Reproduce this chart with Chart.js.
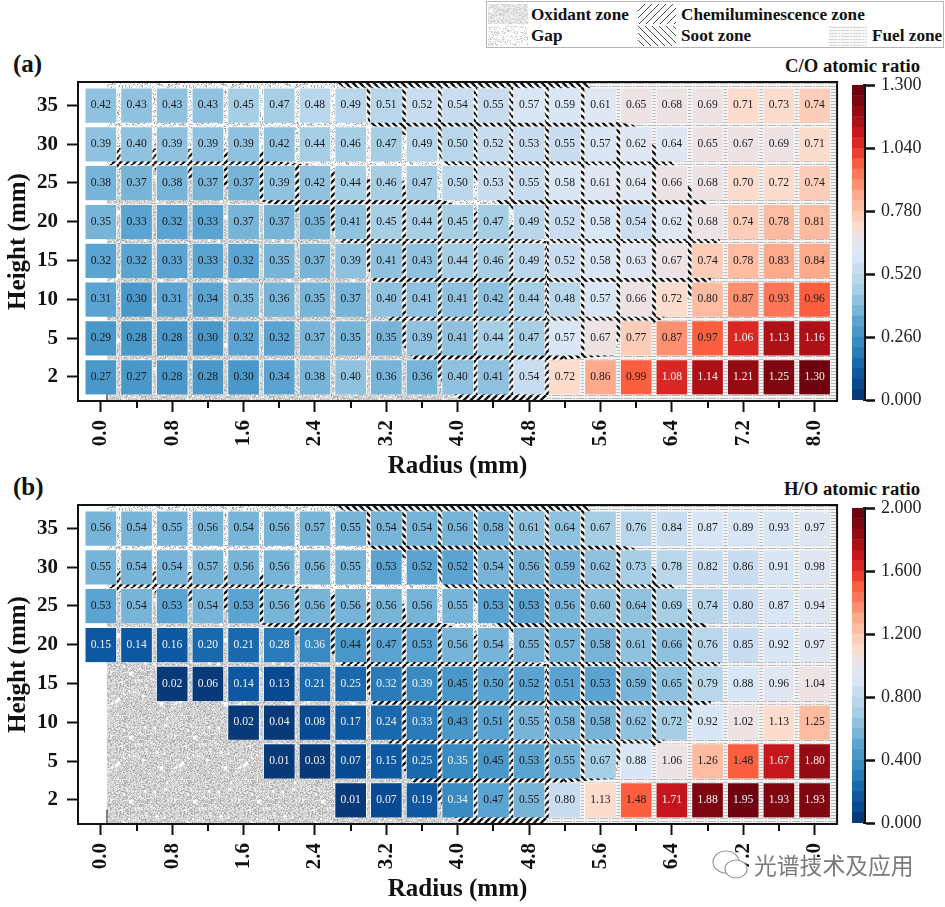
<!DOCTYPE html>
<html>
<head>
<meta charset="utf-8">
<script src="https://cdn.jsdelivr.net/npm/chart.js@4"></script>
<style>
  html, body { margin: 0; background: #fff; }
  body { width: 945px; height: 907px; position: relative; overflow: hidden; font-family: 'Liberation Serif', 'Times New Roman', serif; color: #111; }
  canvas.panel { position: absolute; left: 0; }
  canvas.bar { position: absolute; left: 840px; }
  .txt { position: absolute; font-weight: 700; white-space: nowrap; line-height: 1; }
  #legend { position: absolute; left: 486px; top: 1px; width: 456px; height: 45px; border: 1px solid #b5b5b5; }
  .sw { position: absolute; }
  .lg { font-size: 17.2px; }
  #mark { position: absolute; left: 754px; top: 848px; font: 22.8px 'Noto Sans CJK SC', sans-serif; color: #7a7a7a; white-space: nowrap; -webkit-text-stroke: 3px #fff; paint-order: stroke fill; }
</style>
</head>
<body>
<div id="legend"></div>
<div class="txt" style="left:13px;top:51px;font-size:25px">(a)</div>
<div class="txt" style="left:13px;top:474px;font-size:25px">(b)</div>
<div class="txt" style="right:25px;top:57px;font-size:18.7px">C/O atomic ratio</div>
<div class="txt" style="right:25px;top:480px;font-size:18.7px">H/O atomic ratio</div>
<canvas class="panel" id="panelA" width="848" height="430" style="top:52px"></canvas>
<canvas class="panel" id="panelB" width="848" height="430" style="top:475px"></canvas>
<canvas class="bar" id="barA" width="105" height="365" style="top:52px"></canvas>
<canvas class="bar" id="barB" width="105" height="365" style="top:475px"></canvas>
<svg style="position:absolute;left:711px;top:849px" width="38" height="33" viewBox="0 0 38 33">
  <ellipse cx="15" cy="13" rx="13" ry="11" fill="#fff" stroke="#999" stroke-width="1.2"/>
  <ellipse cx="25" cy="20" rx="11" ry="9" fill="#fff" stroke="#999" stroke-width="1.2"/>
</svg>
<div id="mark">光谱技术及应用</div>

<script>
// radius labels, one per column of cells
const radii = ['0.0', '0.4', '0.8', '1.2', '1.6', '2.0', '2.4', '2.8', '3.2', '3.6', '4.0',
               '4.4', '4.8', '5.2', '5.6', '6.0', '6.4', '6.8', '7.2', '7.6', '8.0'];
const heights = ['2', '5', '10', '15', '20', '25', '30', '35'];

// C/O atomic ratio, bottom row first
const co2 = [0.27, 0.27, 0.28, 0.28, 0.30, 0.34, 0.38, 0.40, 0.36, 0.36, 0.40, 0.41, 0.54, 0.72, 0.86, 0.99, 1.08, 1.14, 1.21, 1.25, 1.30];
const co5 = [0.29, 0.28, 0.28, 0.30, 0.32, 0.32, 0.37, 0.35, 0.35, 0.39, 0.41, 0.44, 0.47, 0.57, 0.67, 0.77, 0.87, 0.97, 1.06, 1.13, 1.16];
const co10 = [0.31, 0.30, 0.31, 0.34, 0.35, 0.36, 0.35, 0.37, 0.40, 0.41, 0.41, 0.42, 0.44, 0.48, 0.57, 0.66, 0.72, 0.80, 0.87, 0.93, 0.96];
const co15 = [0.32, 0.32, 0.33, 0.33, 0.32, 0.35, 0.37, 0.39, 0.41, 0.43, 0.44, 0.46, 0.49, 0.52, 0.58, 0.63, 0.67, 0.74, 0.78, 0.83, 0.84];
const co20 = [0.35, 0.33, 0.32, 0.33, 0.37, 0.37, 0.35, 0.41, 0.45, 0.44, 0.45, 0.47, 0.49, 0.52, 0.58, 0.54, 0.62, 0.68, 0.74, 0.78, 0.81];
const co25 = [0.38, 0.37, 0.38, 0.37, 0.37, 0.39, 0.42, 0.44, 0.46, 0.47, 0.50, 0.53, 0.55, 0.58, 0.61, 0.64, 0.66, 0.68, 0.70, 0.72, 0.74];
const co30 = [0.39, 0.40, 0.39, 0.39, 0.39, 0.42, 0.44, 0.46, 0.47, 0.49, 0.50, 0.52, 0.53, 0.55, 0.57, 0.62, 0.64, 0.65, 0.67, 0.69, 0.71];
const co35 = [0.42, 0.43, 0.43, 0.43, 0.45, 0.47, 0.48, 0.49, 0.51, 0.52, 0.54, 0.55, 0.57, 0.59, 0.61, 0.65, 0.68, 0.69, 0.71, 0.73, 0.74];

// H/O atomic ratio, bottom row first, null where nothing was measured
const ho2 = [null, null, null, null, null, null, null, 0.01, 0.07, 0.19, 0.34, 0.47, 0.55, 0.80, 1.13, 1.48, 1.71, 1.88, 1.95, 1.93, 1.93];
const ho5 = [null, null, null, null, null, 0.01, 0.03, 0.07, 0.15, 0.25, 0.35, 0.45, 0.53, 0.55, 0.67, 0.88, 1.06, 1.26, 1.48, 1.67, 1.80];
const ho10 = [null, null, null, null, 0.02, 0.04, 0.08, 0.17, 0.24, 0.33, 0.43, 0.51, 0.55, 0.58, 0.58, 0.62, 0.72, 0.92, 1.02, 1.13, 1.25];
const ho15 = [null, null, 0.02, 0.06, 0.14, 0.13, 0.21, 0.25, 0.32, 0.39, 0.45, 0.50, 0.52, 0.51, 0.53, 0.59, 0.65, 0.79, 0.88, 0.96, 1.04];
const ho20 = [0.15, 0.14, 0.16, 0.20, 0.21, 0.28, 0.36, 0.44, 0.47, 0.53, 0.56, 0.54, 0.55, 0.57, 0.58, 0.61, 0.66, 0.76, 0.85, 0.92, 0.97];
const ho25 = [0.53, 0.54, 0.53, 0.54, 0.53, 0.56, 0.56, 0.56, 0.56, 0.56, 0.55, 0.53, 0.53, 0.56, 0.60, 0.64, 0.69, 0.74, 0.80, 0.87, 0.94];
const ho30 = [0.55, 0.54, 0.54, 0.57, 0.56, 0.56, 0.56, 0.55, 0.53, 0.52, 0.52, 0.54, 0.56, 0.59, 0.62, 0.73, 0.78, 0.82, 0.86, 0.91, 0.98];
const ho35 = [0.56, 0.54, 0.55, 0.56, 0.54, 0.56, 0.57, 0.55, 0.54, 0.54, 0.56, 0.58, 0.61, 0.64, 0.67, 0.76, 0.84, 0.87, 0.89, 0.93, 0.97];

const coRows = [co2, co5, co10, co15, co20, co25, co30, co35];
const hoRows = [ho2, ho5, ho10, ho15, ho20, ho25, ho30, ho35];
const coTicks = [0, 0.26, 0.52, 0.78, 1.04, 1.3];
const hoTicks = [0, 0.4, 0.8, 1.2, 1.6, 2.0];

// zone outlines, [column, row] in the axes' own units
const fuelZone = [[10, -0.62], [20.63, -0.62], [20.63, 7.6], [10, 7.6]];
const gapZone = [[0.17, 7.6], [13, 7.6], [13, 3.5], [6.5, 3.5], [3, 5.2], [0.17, 5.2]];
const oxidantZone = [[0.17, 5.35], [1.5, 5.35], [2.5, 5.1], [3.4, 4.9], [4.4, 4.55], [4.8, 4.45], [6.3, 4], [6.7, 3.5], [7.4, 3],
  [7.6, 2.5], [8.2, 2], [8.06, 1.45], [8.3, 1], [8.76, 0.45], [9.2, 0.2], [10.1, -0.62], [0.17, -0.62]];
const sootZone = [[6.6, 7.6], [13.56, 7.6], [14.1, 7.1], [14.5, 6.56], [14.92, 6.5], [15.45, 6], [16.2, 5.45], [16.5, 4.9], [17.07, 4.45],
  [17.35, 3.5], [17.3, 3.1], [17.07, 2.45], [15.68, 1.47], [14.5, 1], [14.4, 0.55], [13, 0.45], [12.5, 1.5], [12.5, 3.5], [12.4, 4],
  [11.1, 4.45], [10.5, 5], [9.55, 5.5], [9.4, 6], [7.5, 6.5], [7.45, 7]];
const chemZone = [[0.17, 5.35], [0.5, 5.9], [4.5, 5.85], [5, 5.55], [6, 5.45], [6.4, 5.35], [7.4, 5.1], [8.5, 5.05], [8.6, 4.6], [9.6, 4.55],
  [10.4, 4.3], [11.4, 4], [12.05, 3.55], [12.5, 3.5], [12.5, 1.5], [13, 0.45], [13, 0.3], [12.47, -0.62], [10.1, -0.62], [9.2, 0.2],
  [8.76, 0.45], [8.3, 1], [8.06, 1.45], [8.2, 2], [7.6, 2.5], [7.4, 3], [6.7, 3.5], [6.3, 4], [4.8, 4.45], [4.4, 4.55], [3.4, 4.9],
  [2.5, 5.1], [1.5, 5.35]];

// blue to red colour stops, sampled into the colour bar's bands
const colorStops = ['#08306b', '#084a92', '#115fa8', '#2b7bba', '#4292c6', '#5ba3d0', '#85bcdc', '#a6cfe6', '#c3d9ee', '#d8e6f5', '#e6e7f0',
                    '#fbdccd', '#fdc5ad', '#fca98c', '#fc8363', '#fb5f40', '#e32f27', '#c4161c', '#9f0e14', '#7d0610', '#67000d'];
const bandCount = 30;

const FONT = "'Liberation Serif', 'Times New Roman', serif";

function hexToRgb(h) {
    return [1, 3, 5].map(i => parseInt(h.slice(i, i + 2), 16));
}

const bandColors = [];
for (let i = 0; i < bandCount; i++) {
    const t = (i + 0.5) / bandCount * (colorStops.length - 1);
    const a = hexToRgb(colorStops[Math.floor(t)]);
    const b = hexToRgb(colorStops[Math.ceil(t)]);
    const f = t - Math.floor(t);
    const c = a.map((v, k) => Math.round(v + (b[k] - v) * f));
    bandColors.push(`rgb(${c[0]},${c[1]},${c[2]})`);
}

function colorFor(value, vmax) {
    const i = Math.min(bandCount - 1, Math.floor(value / vmax * bandCount));
    return bandColors[i];
}

// textures for the zones, no randomness, just a small hash for the grain
function grain(x, y) {
    const s = Math.sin(x * 12.9898 + y * 78.233) * 43758.5453;
    return s - Math.floor(s);
}

function tile(w, h, paint) {
    const c = document.createElement('canvas');
    c.width = w;
    c.height = h;
    paint(c.getContext('2d'), w, h);
    return c;
}

const textures = {
    oxidant: tile(64, 64, (g, w, h) => {
        for (let y = 0; y < h; y++) {
            for (let x = 0; x < w; x++) {
                const v = grain(x, y);
                g.fillStyle = v < 0.25 ? '#ececec' : v < 0.8 ? '#cfcfcf' : '#adadad';
                g.fillRect(x, y, 1, 1);
            }
        }
        // little white blobs
        g.fillStyle = '#fff';
        for (let i = 0; i < 26; i++) {
            g.beginPath();
            g.arc(grain(i, 1) * w, grain(i, 2) * h, 0.8 + grain(i, 3) * 1.2, 0, Math.PI * 2);
            g.fill();
        }
    }),
    gap: tile(64, 64, (g, w, h) => {
        g.fillStyle = '#fff';
        g.fillRect(0, 0, w, h);
        for (let y = 0; y < h; y++) {
            for (let x = 0; x < w; x++) {
                const v = grain(x + 3, y + 7);
                if (v < 0.35) {
                    g.fillStyle = v < 0.1 ? '#999' : '#c8c8c8';
                    g.fillRect(x, y, 1, 1);
                }
            }
        }
    }),
    fuel: tile(12, 3, (g, w, h) => {
        g.fillStyle = '#f4f4f4';
        g.fillRect(0, 0, w, h);
        g.fillStyle = '#b9b9b9';
        g.fillRect(0, 1, 8, 1);
        g.fillRect(9, 1, 2, 1);
    }),
    chem: hatchTile(1, 2.4),
    soot: hatchTile(-1, 2.4),
    chemThin: hatchTile(1, 1),
    sootThin: hatchTile(-1, 1)
};

function hatchTile(dir, lw) {
    const s = 7;
    return tile(s, s, (g) => {
        g.fillStyle = '#fff';
        g.fillRect(0, 0, s, s);
        g.strokeStyle = '#111';
        g.lineWidth = lw;
        [-s, 0, s].forEach(o => {
            g.beginPath();
            if (dir > 0) {
                g.moveTo(o, s);
                g.lineTo(o + s, 0);
            } else {
                g.moveTo(o, 0);
                g.lineTo(o + s, s);
            }
            g.stroke();
        });
    });
}

const zoneLayers = [
    [fuelZone, 'fuel'],
    [gapZone, 'gap'],
    [oxidantZone, 'oxidant'],
    [sootZone, 'soot'],
    [chemZone, 'chem']
];

const zonesPlugin = {
    id: 'zones',
    beforeDatasetsDraw(chart) {
        const { ctx, chartArea, scales: { x, y } } = chart;
        ctx.save();
        ctx.beginPath();
        ctx.rect(chartArea.left, chartArea.top, chartArea.width, chartArea.height);
        ctx.clip();
        zoneLayers.forEach(([outline, name]) => {
            ctx.fillStyle = ctx.createPattern(textures[name], 'repeat');
            ctx.beginPath();
            outline.forEach(([c, r], i) => {
                const px = x.getPixelForValue(c);
                const py = y.getPixelForValue(r);
                if (i === 0) ctx.moveTo(px, py);
                else ctx.lineTo(px, py);
            });
            ctx.closePath();
            ctx.fill();
        });
        // short mark at the foot of the zone edge
        ctx.strokeStyle = '#222';
        ctx.lineWidth = 1;
        ctx.beginPath();
        ctx.moveTo(x.getPixelForValue(0.17), y.getPixelForValue(-0.62));
        ctx.lineTo(x.getPixelForValue(0.17), y.getPixelForValue(-0.25));
        ctx.stroke();
        ctx.restore();
    }
};

const cellLabelsPlugin = {
    id: 'cellLabels',
    afterDatasetsDraw(chart, args, options) {
        const { ctx } = chart;
        ctx.save();
        ctx.font = `11.6px ${FONT}`;
        ctx.textAlign = 'center';
        ctx.textBaseline = 'middle';
        chart.data.datasets.forEach((ds, d) => {
            chart.getDatasetMeta(d).data.forEach((el, i) => {
                const v = ds.data[i].value;
                const n = v / options.vmax;
                ctx.fillStyle = (n < 0.2 || n > 0.8) ? '#f2f2f2' : '#1c1c1c';
                const p = el.getCenterPoint();
                ctx.fillText(v.toFixed(2), p.x, p.y);
            });
        });
        ctx.restore();
    }
};

const framePlugin = {
    id: 'frame',
    afterDraw(chart) {
        const { ctx, chartArea: a, scales: { x } } = chart;
        ctx.save();
        ctx.strokeStyle = '#111';
        ctx.lineWidth = 2;
        ctx.strokeRect(a.left, a.top, a.width, a.height);
        // every other radius gets a shorter tick
        x.ticks.forEach((t, i) => {
            if (i % 2 === 0) return;
            const px = Math.round(x.getPixelForValue(t.value));
            ctx.beginPath();
            ctx.moveTo(px, a.bottom);
            ctx.lineTo(px, a.bottom + 7);
            ctx.stroke();
        });
        ctx.restore();
    }
};

function buildPanel(id, rows, vmax) {
    const datasets = rows.map((row, r) => ({
        label: heights[r],
        data: row.map((v, c) => v === null ? null : { x: c, y: [r - 0.45, r + 0.45], value: v })
            .filter(p => p !== null),
        backgroundColor: ctx => colorFor(ctx.raw.value, vmax),
        borderColor: 'rgba(255,255,255,0.75)',
        borderWidth: 1,
        barThickness: 32,
        grouped: false
    }));

    return new Chart(document.getElementById(id), {
        type: 'bar',
        data: { datasets },
        options: {
            responsive: false,
            animation: false,
            layout: { padding: { top: 30, right: 7, left: 0, bottom: 0 } },
            plugins: {
                legend: { display: false },
                tooltip: { enabled: false },
                cellLabels: { vmax }
            },
            scales: {
                x: {
                    type: 'linear',
                    offset: false,
                    min: -0.64,
                    max: 20.63,
                    afterBuildTicks(scale) { scale.ticks = radii.map((_, i) => ({ value: i })); },
                    afterFit(scale) { scale.height = 81; },
                    border: { display: false },
                    grid: {
                        offset: false,
                        drawOnChartArea: false,
                        tickLength: 11,
                        tickWidth: 2,
                        tickColor: ctx => ctx.index % 2 ? 'rgba(0,0,0,0)' : '#111'
                    },
                    ticks: {
                        autoSkip: false,
                        minRotation: 90,
                        maxRotation: 90,
                        padding: 8,
                        color: '#111',
                        font: { family: FONT, size: 21, weight: '700' },
                        callback: (v, i) => i % 2 ? '' : radii[i]
                    },
                    title: {
                        display: true,
                        text: 'Radius (mm)',
                        color: '#111',
                        font: { family: FONT, size: 25, weight: '700' },
                        padding: 0
                    }
                },
                y: {
                    type: 'linear',
                    min: -0.62,
                    max: 7.6,
                    afterBuildTicks(scale) { scale.ticks = heights.map((_, i) => ({ value: i })); },
                    afterFit(scale) { scale.width = 78; },
                    border: { display: false },
                    grid: { drawOnChartArea: false, tickLength: 11, tickWidth: 2, tickColor: '#111' },
                    ticks: {
                        autoSkip: false,
                        padding: 9,
                        color: '#111',
                        font: { family: FONT, size: 21, weight: '700' },
                        callback: (v, i) => heights[i]
                    },
                    title: {
                        display: true,
                        text: 'Height (mm)',
                        color: '#111',
                        font: { family: FONT, size: 25, weight: '700' },
                        padding: { top: 4, bottom: 0 }
                    }
                }
            }
        },
        plugins: [zonesPlugin, cellLabelsPlugin, framePlugin]
    });
}

function buildColorBar(id, vmax, tickValues) {
    const datasets = bandColors.map((c, i) => ({
        data: [[i / bandCount * vmax, (i + 1) / bandCount * vmax]],
        backgroundColor: c,
        grouped: false,
        categoryPercentage: 1,
        barPercentage: 1
    }));

    return new Chart(document.getElementById(id), {
        type: 'bar',
        data: { labels: [''], datasets },
        options: {
            responsive: false,
            animation: false,
            layout: { padding: { top: 33, left: 12, right: 0, bottom: 14 } },
            plugins: { legend: { display: false }, tooltip: { enabled: false } },
            scales: {
                x: { display: false },
                y: {
                    position: 'right',
                    min: 0,
                    max: vmax,
                    afterBuildTicks(scale) { scale.ticks = tickValues.map(value => ({ value })); },
                    afterFit(scale) { scale.width = 81; },
                    border: { display: true, color: '#111', width: 3 },
                    grid: { drawOnChartArea: false, tickLength: 11, tickWidth: 2.5, tickColor: '#111' },
                    ticks: {
                        padding: 6,
                        color: '#222',
                        font: { family: FONT, size: 18 },
                        callback: v => v.toFixed(3)
                    }
                }
            }
        }
    });
}

function buildLegend() {
    const box = document.getElementById('legend');
    const items = [
        ['oxidant', 1, 2, 40, 20, 'Oxidant zone', 44, 4],
        ['gap', 1, 24, 40, 20, 'Gap', 44, 25],
        ['chemThin', 151, 2, 38, 20, 'Chemiluminescence zone', 194, 4],
        ['sootThin', 151, 24, 38, 20, 'Soot zone', 194, 25],
        ['fuel', 342, 24, 38, 20, 'Fuel zone', 385, 25]
    ];
    items.forEach(([name, x, y, w, h, text, tx, ty]) => {
        const c = document.createElement('canvas');
        c.className = 'sw';
        c.width = w;
        c.height = h;
        c.style.left = x + 'px';
        c.style.top = y + 'px';
        const g = c.getContext('2d');
        g.globalAlpha = name.endsWith('Thin') ? 0.75 : 0.6;
        g.fillStyle = g.createPattern(textures[name], 'repeat');
        g.fillRect(0, 0, w, h);
        box.appendChild(c);
        const t = document.createElement('div');
        t.className = 'txt lg';
        t.textContent = text;
        t.style.left = tx + 'px';
        t.style.top = ty + 'px';
        box.appendChild(t);
    });
}

buildLegend();
buildPanel('panelA', coRows, 1.3);
buildPanel('panelB', hoRows, 2.0);
buildColorBar('barA', 1.3, coTicks);
buildColorBar('barB', 2.0, hoTicks);
</script>
</body>
</html>
